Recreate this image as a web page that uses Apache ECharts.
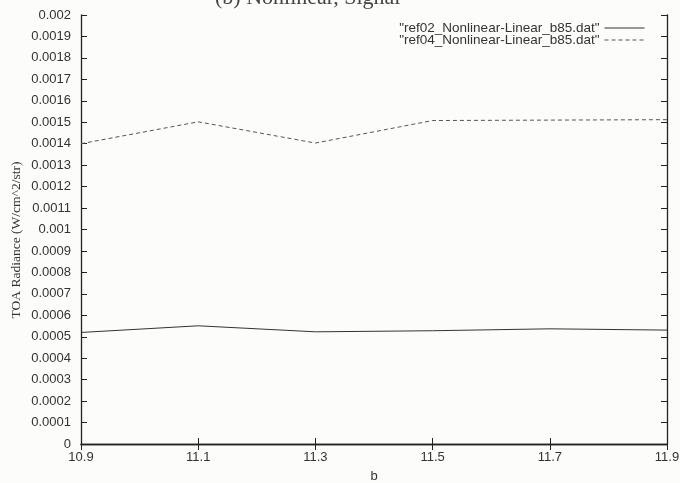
<!DOCTYPE html>
<html>
<head>
<meta charset="utf-8">
<script src="https://cdn.jsdelivr.net/npm/echarts@6/dist/echarts.min.js"></script>
<style>html,body{margin:0;padding:0;background:#fcfcfb;}#c{width:680px;height:483px;}</style>
</head>
<body>
<div id="c"></div>
<script>
const categories = ['10.9', '11.1', '11.3', '11.5', '11.7', '11.9'];
const ref02 = [0.000520, 0.000551, 0.000523, 0.000528, 0.000537, 0.000531];
const ref04 = [0.001400, 0.001502, 0.001403, 0.001508, 0.001510, 0.001512];
const seriesNames = ['"ref02_Nonlinear-Linear_b85.dat"', '"ref04_Nonlinear-Linear_b85.dat"'];
const yTitle = 'TOA Radiance (W/cm^2/str)';
const xTitle = 'b';
const topText = '(b) Nonlinear, Signal';

const chart = echarts.init(document.getElementById('c'), null, {renderer: 'canvas'});
const sans = 'Liberation Sans, Arial, sans-serif';
const serif = 'Liberation Serif, Times New Roman, serif';
const ink = '#333';
const frame = '#222';
const fmt = v => parseFloat(Number(v).toFixed(4)).toString();

chart.setOption({
  backgroundColor: '#fcfcfb',
  animation: false,
  graphic: [{
    type: 'text', x: 215, y: 9,
    style: {text: topText, font: '22px ' + serif, fill: '#444', verticalAlign: 'bottom', align: 'left'}
  }, {
    type: 'text', x: 16, y: 240, rotation: Math.PI / 2,
    style: {text: yTitle, font: '13.5px ' + serif, fill: ink, align: 'center', verticalAlign: 'middle'}
  }],
  grid: {left: 81, right: 13, top: 15, bottom: 39, containLabel: false, outerBoundsMode: 'none'},
  legend: {
    orient: 'vertical', right: 30, top: 16, align: 'right',
    itemWidth: 40, itemHeight: 8, itemGap: -2,
    itemStyle: {opacity: 0},
    lineStyle: {width: 1},
    textStyle: {fontFamily: sans, fontSize: 13.5, color: ink},
    data: seriesNames
  },
  xAxis: [{
    type: 'category', data: categories, boundaryGap: false,
    name: xTitle, nameLocation: 'middle', nameGap: 26,
    nameTextStyle: {fontFamily: sans, fontSize: 13, color: ink},
    axisLine: {lineStyle: {color: frame, width: 1.3}},
    axisTick: {inside: true, length: 6, lineStyle: {color: frame}},
    axisLabel: {fontFamily: sans, fontSize: 13, color: ink, margin: 7},
    splitLine: {show: false}
  }, {
    type: 'category', data: categories, boundaryGap: false, position: 'top',
    axisLine: {lineStyle: {color: frame, width: 1.3}},
    axisTick: {inside: true, length: 6, lineStyle: {color: frame}},
    axisLabel: {show: false}
  }],
  yAxis: [{
    type: 'value', min: 0, max: 0.002, interval: 0.0001,
    axisLine: {show: true, lineStyle: {color: frame, width: 1.3}},
    axisTick: {show: true, inside: true, length: 6, lineStyle: {color: frame}},
    axisLabel: {fontFamily: sans, fontSize: 13, color: ink, margin: 10, formatter: fmt},
    splitLine: {show: false}
  }, {
    type: 'value', min: 0, max: 0.002, interval: 0.0001, position: 'right',
    axisLine: {show: true, lineStyle: {color: frame, width: 1.3}},
    axisTick: {show: true, inside: true, length: 6, lineStyle: {color: frame}},
    axisLabel: {show: false},
    splitLine: {show: false}
  }],
  series: [{
    name: seriesNames[0], type: 'line', data: ref02, symbol: 'none',
    lineStyle: {color: '#333', width: 1}, itemStyle: {color: '#333'}
  }, {
    name: seriesNames[1], type: 'line', data: ref04, symbol: 'none',
    lineStyle: {color: '#555', width: 1, type: [4, 3]}, itemStyle: {color: '#555'}
  }]
});
</script>
</body>
</html>
